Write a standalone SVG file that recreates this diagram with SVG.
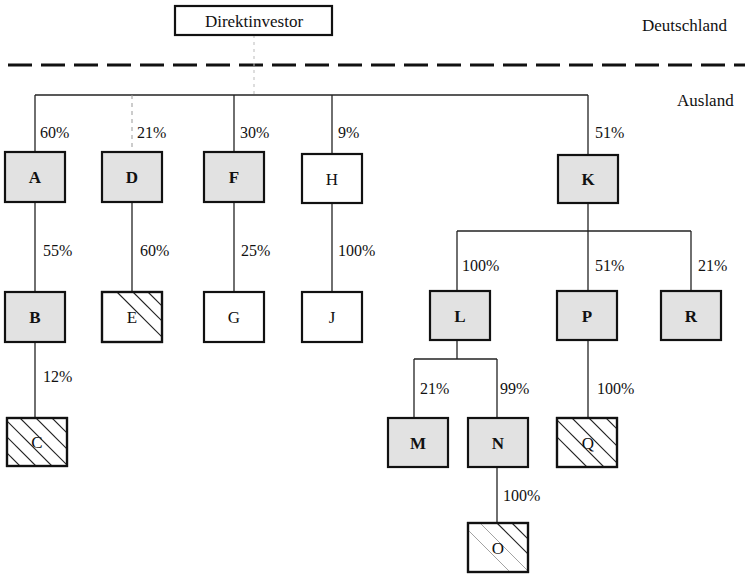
<svg xmlns="http://www.w3.org/2000/svg" width="752" height="574" viewBox="0 0 752 574">
<style>
text{font-family:"Liberation Serif","Times New Roman",serif;font-size:17px;fill:#111}
.lbl{font-size:16px}
.box{stroke:#111;stroke-width:2.2;fill:#fff}
.sh{fill:#e2e2e2}
.b{font-weight:bold;text-anchor:middle}
.n{text-anchor:middle}
.c{stroke:#222;stroke-width:1.3;fill:none}
.h{stroke:#222;stroke-width:1.2}
.hf{stroke:#999;stroke-width:0.9}
</style>
<defs>
<clipPath id="clipC"><rect x="7" y="418" width="60" height="48"/></clipPath>
<clipPath id="clipE"><rect x="102" y="292" width="60" height="50"/></clipPath>
<clipPath id="clipQ"><rect x="557" y="418" width="60" height="49"/></clipPath>
<clipPath id="clipO"><rect x="468" y="523" width="60" height="49"/></clipPath>
</defs>
<rect width="752" height="574" fill="#fff"/>
<line x1="8" y1="65" x2="745" y2="65" stroke="#111" stroke-width="3" stroke-dasharray="24,9"/>
<text x="642" y="31">Deutschland</text>
<text x="677" y="106">Ausland</text>
<g id="connectors">
<line x1="254" y1="35" x2="254" y2="95" stroke="#bbb" stroke-width="1" stroke-dasharray="3,4"/>
<line class="c" x1="35" y1="95" x2="588" y2="95" stroke-width="1"/>
<line class="c" x1="35" y1="95" x2="35" y2="152"/>
<line x1="132" y1="95" x2="132" y2="152" stroke="#999" stroke-width="1" stroke-dasharray="4,4"/>
<line class="c" x1="234" y1="95" x2="234" y2="152"/>
<line class="c" x1="332" y1="95" x2="332" y2="154"/>
<line class="c" x1="588" y1="95" x2="588" y2="155"/>
<line class="c" x1="35" y1="202" x2="35" y2="292"/>
<line class="c" x1="132" y1="202" x2="132" y2="292"/>
<line class="c" x1="234" y1="202" x2="234" y2="292"/>
<line class="c" x1="332" y1="203" x2="332" y2="292"/>
<line class="c" x1="35" y1="342" x2="35" y2="418"/>
<line class="c" x1="588" y1="203" x2="588" y2="291"/>
<line class="c" x1="457" y1="231" x2="691" y2="231"/>
<line class="c" x1="457" y1="231" x2="457" y2="291"/>
<line class="c" x1="691" y1="231" x2="691" y2="291"/>
<line class="c" x1="457" y1="340" x2="457" y2="359"/>
<line class="c" x1="414" y1="359" x2="497" y2="359"/>
<line class="c" x1="414" y1="359" x2="414" y2="418"/>
<line class="c" x1="497" y1="359" x2="497" y2="418"/>
<line class="c" x1="588" y1="340" x2="588" y2="418"/>
<line class="c" x1="497" y1="467" x2="497" y2="523"/>
<text class="lbl" x="40" y="138">60%</text>
<text class="lbl" x="137" y="138">21%</text>
<text class="lbl" x="240" y="138">30%</text>
<text class="lbl" x="338" y="138">9%</text>
<text class="lbl" x="595" y="138">51%</text>
<text class="lbl" x="43" y="256">55%</text>
<text class="lbl" x="140" y="256">60%</text>
<text class="lbl" x="241" y="256">25%</text>
<text class="lbl" x="338" y="256">100%</text>
<text class="lbl" x="43" y="382">12%</text>
<text class="lbl" x="462" y="271">100%</text>
<text class="lbl" x="595" y="271">51%</text>
<text class="lbl" x="698" y="271">21%</text>
<text class="lbl" x="420" y="394">21%</text>
<text class="lbl" x="500" y="394">99%</text>
<text class="lbl" x="597" y="394">100%</text>
<text class="lbl" x="503" y="501">100%</text>
</g>
<g id="Direktinvestor"><rect class="box" x="175" y="6" width="157" height="29" stroke-width="1.8"/><text class="n" x="254" y="27">Direktinvestor</text></g>
<g id="A"><rect class="box sh" x="5" y="152" width="60" height="50"/><text class="b" x="35" y="183">A</text></g>
<g id="D"><rect class="box sh" x="102" y="152" width="60" height="50"/><text class="b" x="132" y="183">D</text></g>
<g id="F"><rect class="box sh" x="204" y="152" width="60" height="50"/><text class="b" x="234" y="183">F</text></g>
<g id="H"><rect class="box" x="302" y="154" width="60" height="49"/><text class="n" x="332" y="185">H</text></g>
<g id="K"><rect class="box sh" x="558" y="155" width="60" height="48"/><text class="b" x="588" y="185">K</text></g>
<g id="B"><rect class="box sh" x="5" y="292" width="60" height="50"/><text class="b" x="35" y="323">B</text></g>
<g id="E"><rect class="box" x="102" y="292" width="60" height="50"/>
<g clip-path="url(#clipE)"><line class="h" x1="117" y1="292" x2="167" y2="342"/><line class="h" x1="133" y1="292" x2="183" y2="342"/><line class="h" x1="148" y1="292" x2="198" y2="342"/></g>
<rect x="102" y="292" width="60" height="50" fill="none" stroke="#111" stroke-width="2.2"/>
<text class="n" x="132" y="323">E</text></g>
<g id="G"><rect class="box" x="204" y="292" width="60" height="50"/><text class="n" x="234" y="323">G</text></g>
<g id="J"><rect class="box" x="302" y="292" width="60" height="50"/><text class="n" x="332" y="323">J</text></g>
<g id="L"><rect class="box sh" x="430" y="291" width="60" height="49"/><text class="b" x="460" y="322">L</text></g>
<g id="P"><rect class="box sh" x="557" y="291" width="60" height="49"/><text class="b" x="587" y="322">P</text></g>
<g id="R"><rect class="box sh" x="661" y="291" width="60" height="49"/><text class="b" x="691" y="322">R</text></g>
<g id="C"><rect class="box" x="7" y="418" width="60" height="48"/>
<g clip-path="url(#clipC)">
<line class="h" x1="-30" y1="416" x2="70" y2="516"/>
<line class="h" x1="-30" y1="400" x2="70" y2="500"/>
<line class="h" x1="-30" y1="384" x2="70" y2="484"/>
<line class="h" x1="-30" y1="368" x2="70" y2="468"/>
<line class="h" x1="-30" y1="352" x2="70" y2="452"/>
<line class="h" x1="-30" y1="336" x2="70" y2="436"/>
</g>
<rect x="7" y="418" width="60" height="48" fill="none" stroke="#111" stroke-width="2.2"/>
<text class="n" x="37" y="448">C</text></g>
<g id="M"><rect class="box sh" x="388" y="418" width="60" height="49"/><text class="b" x="418" y="449">M</text></g>
<g id="N"><rect class="box sh" x="468" y="418" width="60" height="49"/><text class="b" x="498" y="449">N</text></g>
<g id="Q"><rect class="box" x="557" y="418" width="60" height="49"/>
<g clip-path="url(#clipQ)">
<line class="h" x1="540" y1="420" x2="640" y2="520"/>
<line class="h" x1="540" y1="403" x2="640" y2="503"/>
<line class="h" x1="540" y1="386" x2="640" y2="486"/>
<line class="h" x1="540" y1="369" x2="640" y2="469"/>
<line class="h" x1="540" y1="352" x2="640" y2="452"/>
</g>
<rect x="557" y="418" width="60" height="49" fill="none" stroke="#111" stroke-width="2.2"/>
<text class="n" x="588" y="449">Q</text></g>
<g id="O"><rect class="box" x="468" y="523" width="60" height="49"/>
<g clip-path="url(#clipO)">
<line class="hf" x1="468" y1="530" x2="520" y2="582"/>
<line class="hf" x1="480" y1="523" x2="530" y2="573"/>
<line class="h" x1="497" y1="523" x2="547" y2="573"/>
<line class="h" x1="512" y1="523" x2="562" y2="573"/>
</g>
<rect x="468" y="523" width="60" height="49" fill="none" stroke="#111" stroke-width="2.2"/>
<text class="n" x="498" y="554">O</text></g>
</svg>
